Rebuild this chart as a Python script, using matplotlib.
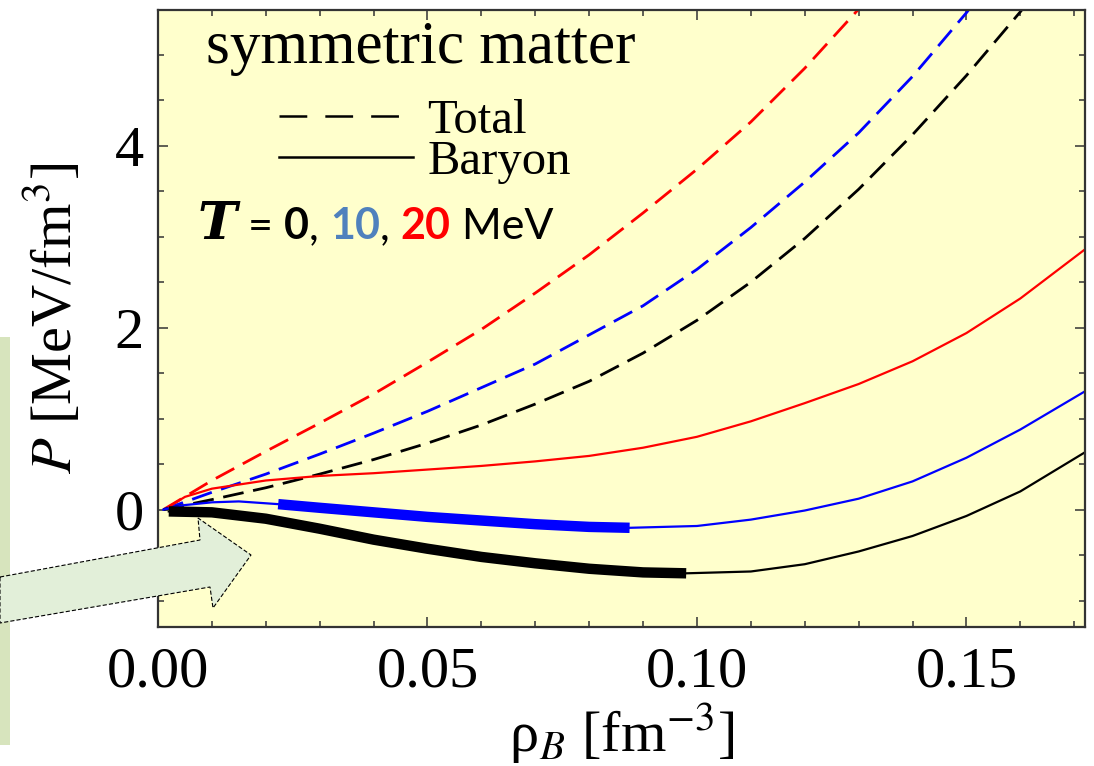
import numpy as np
import matplotlib
matplotlib.use("Agg")
from matplotlib import pyplot as plt
from matplotlib.lines import Line2D
from matplotlib.patches import Polygon, Rectangle
from matplotlib.offsetbox import TextArea, HPacker, AnchoredOffsetbox

plt.rcParams['font.family'] = ['Liberation Serif', 'DejaVu Serif']
plt.rcParams['mathtext.fontset'] = 'stix'
plt.rcParams['lines.scale_dashes'] = False

# data: rho_B [fm^-3], P [MeV/fm^3]
rho_t0_total = [0.001, 0.01, 0.02, 0.03, 0.04, 0.05, 0.06, 0.07, 0.08, 0.09, 0.10,
                0.11, 0.12, 0.13, 0.14, 0.15, 0.16, 0.165]
p_t0_total = [0.0, 0.11, 0.24, 0.39, 0.55, 0.73, 0.93, 1.16, 1.41, 1.72, 2.08,
              2.50, 2.98, 3.52, 4.12, 4.77, 5.47, 5.85]

rho_t10_total = [0.001, 0.01, 0.02, 0.03, 0.04, 0.05, 0.06, 0.07, 0.08, 0.09, 0.10,
                 0.11, 0.12, 0.13, 0.14, 0.15, 0.155]
p_t10_total = [0.0, 0.19, 0.39, 0.61, 0.84, 1.08, 1.34, 1.60, 1.92, 2.24, 2.64,
               3.10, 3.60, 4.14, 4.76, 5.46, 5.85]

rho_t20_total = [0.001, 0.01, 0.02, 0.03, 0.04, 0.05, 0.06, 0.07, 0.08, 0.09, 0.10,
                 0.11, 0.12, 0.13, 0.135]
p_t20_total = [0.0, 0.32, 0.64, 0.95, 1.27, 1.62, 1.98, 2.38, 2.80, 3.26, 3.74,
               4.26, 4.85, 5.50, 5.85]

rho_t0_baryon = [0.002, 0.01, 0.02, 0.03, 0.04, 0.05, 0.06, 0.07, 0.08, 0.09, 0.098,
                 0.11, 0.12, 0.13, 0.14, 0.15, 0.16, 0.172]
p_t0_baryon = [-0.02, -0.03, -0.10, -0.21, -0.33, -0.43, -0.52, -0.59, -0.65, -0.69, -0.70,
               -0.68, -0.60, -0.46, -0.29, -0.07, 0.20, 0.63]
t0_unstable_end = 0.098

rho_t10_baryon = [0.001, 0.005, 0.01, 0.015, 0.0223, 0.03, 0.04, 0.05, 0.06, 0.07, 0.08,
                  0.0875, 0.10, 0.11, 0.12, 0.13, 0.14, 0.15, 0.16, 0.172]
p_t10_baryon = [0.0, 0.05, 0.08, 0.09, 0.06, 0.02, -0.03, -0.08, -0.12, -0.16, -0.19,
                -0.20, -0.18, -0.11, -0.01, 0.12, 0.31, 0.57, 0.88, 1.30]
t10_unstable = (0.0223, 0.0875)

rho_t20_baryon = [0.002, 0.005, 0.01, 0.02, 0.03, 0.04, 0.05, 0.06, 0.07, 0.08, 0.09,
                  0.10, 0.11, 0.12, 0.13, 0.14, 0.15, 0.16, 0.172]
p_t20_baryon = [0.03, 0.14, 0.23, 0.32, 0.37, 0.40, 0.44, 0.48, 0.53, 0.59, 0.68,
                0.80, 0.97, 1.17, 1.38, 1.63, 1.94, 2.32, 2.86]

W, H = 1094, 766
fig = plt.figure(figsize=(W / 100, H / 100), dpi=100)
ax = fig.add_axes([158 / W, 1 - 627 / H, (1085 - 158) / W, (627 - 10) / H])
ax.set_facecolor('#ffffcc')

dash = (15, 7)
ax.plot(rho_t20_total, p_t20_total, color='red', lw=2.0, dashes=dash)
ax.plot(rho_t10_total, p_t10_total, color='blue', lw=2.0, dashes=dash)
ax.plot(rho_t0_total, p_t0_total, color='black', lw=2.0, dashes=dash)

ax.plot(rho_t20_baryon, p_t20_baryon, color='red', lw=1.6)

x = np.array(rho_t10_baryon)
y = np.array(p_t10_baryon)
ax.plot(x, y, color='blue', lw=1.6)
m = (x >= t10_unstable[0]) & (x <= t10_unstable[1])
ax.plot(x[m], y[m], color='blue', lw=7.5, solid_capstyle='butt')

x = np.array(rho_t0_baryon)
y = np.array(p_t0_baryon)
ax.plot(x, y, color='black', lw=1.6)
m = x <= t0_unstable_end
ax.plot(x[m], y[m], color='black', lw=7.5, solid_capstyle='butt')

ax.set_xlim(0, 0.172)
ax.set_ylim(-1.29, 5.49)
ax.set_xticks([0.0, 0.05, 0.10, 0.15])
ax.set_xticklabels(['0.00', '0.05', '0.10', '0.15'])
ax.set_xticks(np.arange(0, 0.1721, 0.01), minor=True)
ax.set_yticks([0, 2, 4])
ax.set_yticks(np.arange(-1.0, 5.5, 0.5), minor=True)
ax.tick_params(which='both', direction='in', top=True, right=True, color='#333333',
               width=1.1, labelsize=42)
ax.tick_params(which='major', length=7.5)
ax.tick_params(which='minor', length=4.5)
ax.tick_params(axis='x', pad=14)
ax.tick_params(axis='y', pad=10)
for s in ax.spines.values():
    s.set_color('#333333')
    s.set_linewidth(1.6)

ax.set_ylabel(r'$P$ [MeV/fm$^3$]', fontsize=42, labelpad=22)
ax.set_xlabel(r'ρ$_B$ [fm$^{-3}$]', fontsize=42, labelpad=2)

fig.text(206 / W, 1 - 63 / H, 'symmetric matter', fontsize=44, va='baseline', ha='left')

handles = [Line2D([], [], color='black', lw=1.8, dashes=(20, 13)),
           Line2D([], [], color='black', lw=1.8)]
ax.legend(handles, ['Total', 'Baryon'], loc='upper left', frameon=False, fontsize=35,
          bbox_to_anchor=(279 / W, 1 - 99 / H), bbox_transform=fig.transFigure,
          borderpad=0, borderaxespad=0, handlelength=2.75, handletextpad=0.3,
          labelspacing=-0.06)

# temperature label in mixed fonts and colours
sans = ['Lato', 'DejaVu Sans']
fs = 31
parts = [TextArea('T', textprops=dict(family=['DejaVu Serif'], weight='bold', style='italic', size=38)),
         TextArea(' = ', textprops=dict(family=sans, size=fs)),
         TextArea('0', textprops=dict(family=sans, size=fs, weight='bold', color='black')),
         TextArea(', ', textprops=dict(family=sans, size=fs)),
         TextArea('10', textprops=dict(family=sans, size=fs, weight='bold', color='#4f81bd')),
         TextArea(', ', textprops=dict(family=sans, size=fs)),
         TextArea('20', textprops=dict(family=sans, size=fs, weight='bold', color='red')),
         TextArea(' MeV', textprops=dict(family=sans, size=fs))]
box = HPacker(children=parts, sep=0, pad=0, align='baseline')
ab = AnchoredOffsetbox(loc='lower left', child=box, pad=0, borderpad=0, frameon=False,
                       bbox_to_anchor=(198 / W, 1 - 250 / H), bbox_transform=fig.transFigure)
fig.add_artist(ab)

# slide decoration: green strip and block arrow
fig.add_artist(Rectangle((0, 1 - 745 / H), 10 / W, (745 - 337) / H, transform=fig.transFigure,
                         facecolor='#d7e4bd', edgecolor='none', zorder=3))
arrow_px = [(0, 577), (200, 540), (198, 518), (251, 555), (213, 608), (210, 587), (0, 623)]
fig.add_artist(Polygon([(px / W, 1 - py / H) for px, py in arrow_px], closed=True,
                       transform=fig.transFigure, facecolor='#e2efd9', edgecolor='black',
                       lw=0.8, linestyle=(0, (3, 1.5)), zorder=4))

fig.savefig('out.png', dpi=100)
